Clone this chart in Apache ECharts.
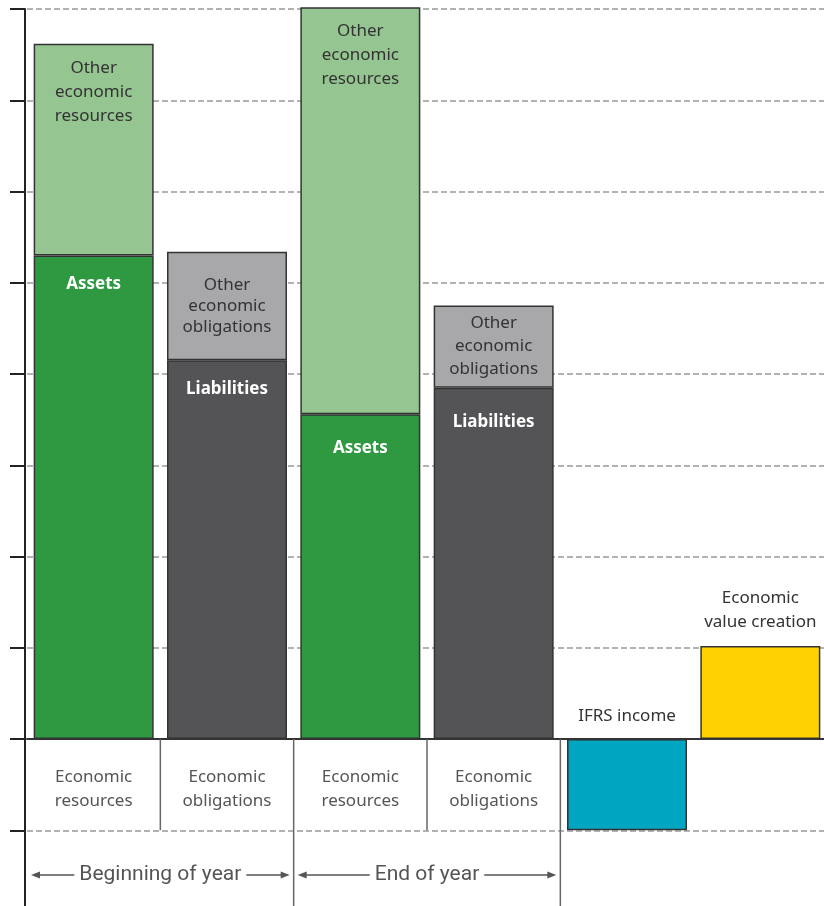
<!DOCTYPE html>
<html>
<head>
<meta charset="utf-8">
<script src="https://cdn.jsdelivr.net/npm/echarts@6/dist/echarts.min.js"></script>
<style>
  html, body { margin: 0; padding: 0; background: #fff; }
  #main { width: 824px; height: 906px; }
</style>
</head>
<body>
<div id="main"></div>
<script>
// columns, left to right
const categories = ['Economic\nresources', 'Economic\nobligations', 'Economic\nresources', 'Economic\nobligations', '', ''];

// lower segment of each column (assets / liabilities / income measures)
const baseNames = ['Assets', 'Liabilities', 'Assets', 'Liabilities', 'IFRS income', 'Economic\nvalue creation'];
const baseValues = [5.30, 4.15, 3.56, 3.85, -1.0, 1.02];

// upper segment stacked on top
const otherNames = ['Other\neconomic\nresources', 'Other\neconomic\nobligations', 'Other\neconomic\nresources', 'Other\neconomic\nobligations', '', ''];
const otherValues = [2.32, 1.19, 4.46, 0.90, '-', '-'];

// period brackets under the axis
const groupNames = ['Beginning of year', 'End of year'];
const groupFrom = [0, 2];
const groupTo = [1, 3];

// column dividers below the zero line: boundary before column i, reaching down to value
const dividerAt = [1, 2, 3, 4];
const dividerTo = [-1, -2, -1, -2];

const FONT = 'Noto Sans';
const baseColors = ['#2e9941', '#545457', '#2e9941', '#545457', '#00a5c2', '#ffd200'];
const otherColors = ['#95c590', '#a8a8ab', '#95c590', '#a8a8ab'];

const chart = echarts.init(document.getElementById('main'), null, { renderer: 'canvas' });

function baseLabel(i) {
  if (i === 4) {
    return { show: true, position: 'top', distance: 12, color: '#333', fontWeight: 'normal' };
  }
  if (i === 5) {
    return { show: true, position: 'top', distance: 12, color: '#333', fontWeight: 'normal', lineHeight: 24 };
  }
  return { show: true, position: 'insideTop', distance: i < 2 ? 18 : 23, color: '#fff', fontWeight: 'bold' };
}

function otherLabel(i) {
  if (i % 2 === 0) {
    return { show: true, position: 'insideTop', distance: 12, lineHeight: 24 };
  }
  return { show: true, position: 'inside', lineHeight: i === 1 ? 21 : 23 };
}

const option = {
  animation: false,
  backgroundColor: '#fff',
  grid: { left: 27, top: 9, width: 800, height: 912.5, outerBoundsMode: 'none', containLabel: false },
  xAxis: {
    type: 'category',
    data: categories,
    axisLine: { onZero: true, lineStyle: { color: '#333', width: 2 } },
    axisTick: { show: false },
    axisLabel: { show: false },
    splitLine: { show: false }
  },
  yAxis: {
    type: 'value',
    min: -2,
    max: 8,
    interval: 1,
    offset: 2,
    axisLine: { show: true, lineStyle: { color: '#222', width: 2 } },
    axisTick: { show: true, length: 15, lineStyle: { color: '#222', width: 2 } },
    axisLabel: { show: false },
    splitLine: { show: true, lineStyle: { color: '#999', width: 1.5, type: [6, 3] } }
  },
  series: [
    {
      name: 'base',
      type: 'bar',
      stack: 'total',
      barWidth: 120,
      clip: false,
      z: 3,
      label: { fontFamily: FONT, fontSize: 17, lineHeight: 22, formatter: '{b}' },
      itemStyle: { borderColor: '#333', borderWidth: 1.5 },
      data: baseValues.map((v, i) => ({
        value: v,
        name: baseNames[i],
        itemStyle: { color: baseColors[i] },
        label: baseLabel(i)
      }))
    },
    {
      name: 'other',
      type: 'bar',
      stack: 'total',
      barWidth: 120,
      clip: false,
      z: 3,
      label: { fontFamily: FONT, fontSize: 17, lineHeight: 23, color: '#333', formatter: '{b}' },
      itemStyle: { borderColor: '#333', borderWidth: 1.5 },
      data: otherValues.map((v, i) => ({
        value: v,
        name: otherNames[i],
        itemStyle: { color: otherColors[i] },
        label: otherLabel(i)
      }))
    },
    {
      // column captions just under the zero line
      name: 'captions',
      type: 'custom',
      clip: false,
      silent: true,
      z: 4,
      data: categories.map((c, i) => [i, 0]),
      renderItem: function (params, api) {
        const p = api.coord([api.value(0), 0]);
        return {
          type: 'text',
          x: p[0],
          y: p[1] + 26,
          style: {
            text: categories[params.dataIndex],
            fill: '#555',
            font: '17px "Noto Sans"',
            lineHeight: 24,
            align: 'center',
            verticalAlign: 'top'
          }
        };
      }
    },
    {
      // thin dividers between the column captions
      name: 'dividers',
      type: 'custom',
      clip: false,
      silent: true,
      z: 4,
      data: dividerAt.map((b, i) => [b, dividerTo[i]]),
      renderItem: function (params, api) {
        const band = api.size([1, 0])[0];
        const top = api.coord([api.value(0), 0]);
        const bot = api.coord([api.value(0), api.value(1)]);
        const x = top[0] - band / 2;
        return {
          type: 'line',
          shape: { x1: x, y1: top[1], x2: x, y2: bot[1] },
          style: { stroke: '#666', lineWidth: 1.5 }
        };
      }
    },
    {
      // period brackets with arrows
      name: 'periods',
      type: 'custom',
      clip: false,
      silent: true,
      z: 4,
      data: groupFrom.map((f, i) => [f, groupTo[i]]),
      renderItem: function (params, api) {
        const band = api.size([1, 0])[0];
        const a = api.coord([api.value(0), -1.49]);
        const b = api.coord([api.value(1), -1.49]);
        const x0 = a[0] - band / 2 + 4;
        const x1 = b[0] + band / 2 - 4;
        const y = a[1];
        const col = '#555';
        return {
          type: 'group',
          children: [
            { type: 'line', shape: { x1: x0 + 4, y1: y, x2: x1 - 4, y2: y }, style: { stroke: col, lineWidth: 1.5 } },
            { type: 'polygon', shape: { points: [[x0, y], [x0 + 9, y - 3.5], [x0 + 9, y + 3.5]] }, style: { fill: col } },
            { type: 'polygon', shape: { points: [[x1, y], [x1 - 9, y - 3.5], [x1 - 9, y + 3.5]] }, style: { fill: col } },
            {
              type: 'text',
              x: (x0 + x1) / 2,
              y: y,
              style: {
                text: groupNames[params.dataIndex],
                fill: col,
                font: '21px Roboto, "Noto Sans"',
                align: 'center',
                verticalAlign: 'middle',
                backgroundColor: '#fff',
                padding: [0, 5]
              }
            }
          ]
        };
      }
    }
  ]
};

chart.setOption(option);
</script>
</body>
</html>
